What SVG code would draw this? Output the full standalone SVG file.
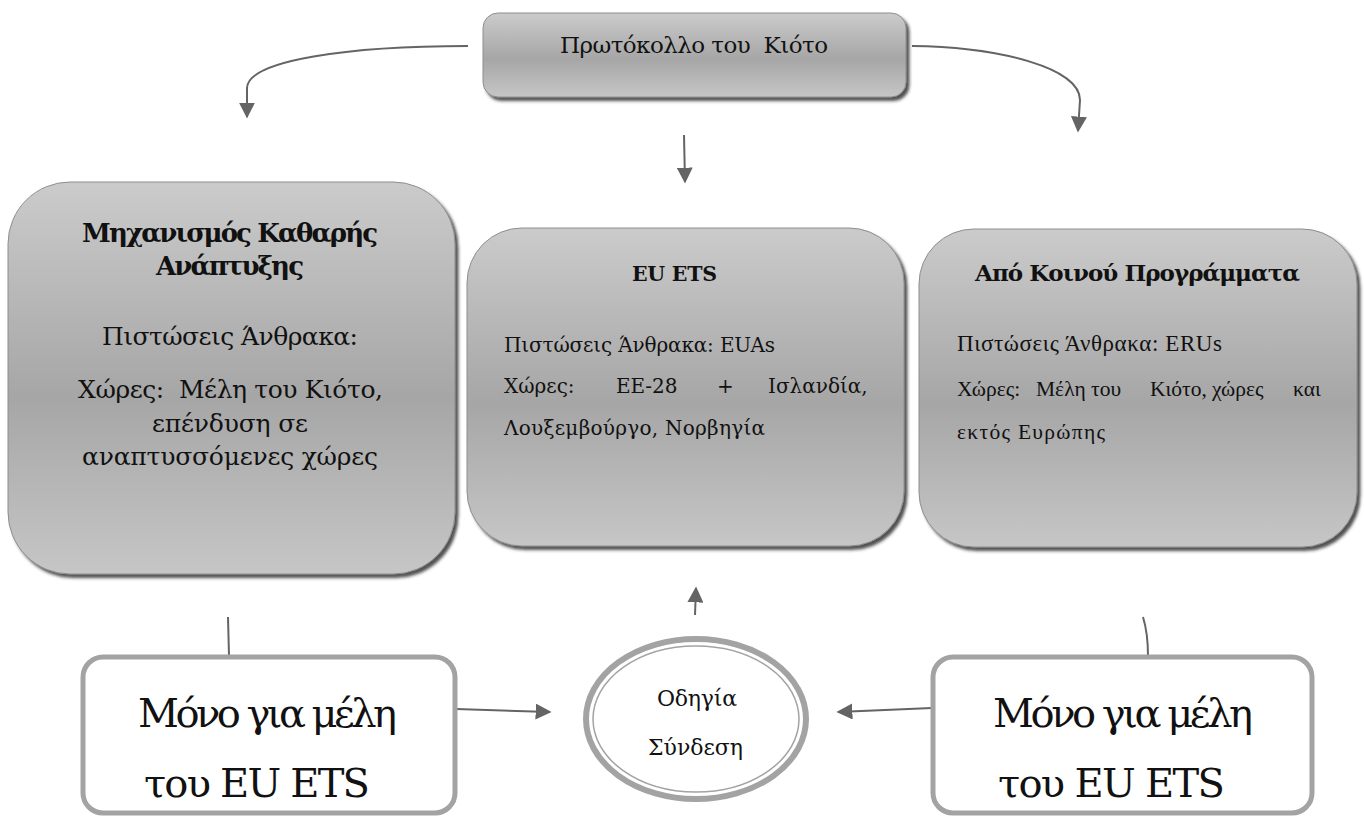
<svg xmlns="http://www.w3.org/2000/svg" width="1364" height="816" viewBox="0 0 1364 816">
  <defs>
    <linearGradient id="gfill" x1="0" y1="0" x2="0" y2="1">
      <stop offset="0" stop-color="#cbcbcb"/>
      <stop offset="0.55" stop-color="#a6a6a6"/>
      <stop offset="1" stop-color="#c6c6c6"/>
    </linearGradient>
    <filter id="shadow" x="-5%" y="-5%" width="115%" height="115%">
      <feDropShadow dx="3" dy="3.5" stdDeviation="1.5" flood-color="#262626" flood-opacity="0.8"/>
    </filter>
    <marker id="arrow" viewBox="0 0 10 10" refX="9" refY="5" markerWidth="8" markerHeight="8" markerUnits="strokeWidth" orient="auto">
      <path d="M0,0 L10,5 L0,10 z" fill="#646464"/>
    </marker>
  </defs>
  <style>
    .gbox { fill: url(#gfill); stroke: #8e8e8e; stroke-width: 1; filter: url(#shadow); }
    .wbox { fill: #ffffff; stroke: #a3a3a3; stroke-width: 5; }
    .t { fill: #111111; font-family: "DejaVu Serif", "Liberation Serif", serif; }
    .tr { fill: #111111; font-family: "Liberation Serif", "DejaVu Serif", serif; }
    .b { font-weight: bold; }
    .conn { fill: none; stroke: #646464; stroke-width: 2; }
  </style>

  <g id="connectors">
    <path class="conn" d="M468,46 C350,46 248,60 247,88 L247,117" marker-end="url(#arrow)"/>
    <path class="conn" d="M912,46 C1000,47 1080,68 1080,100 L1078,131" marker-end="url(#arrow)"/>
    <path class="conn" d="M684,135 L685,182" marker-end="url(#arrow)"/>
    <path class="conn" d="M695,615 L696,588" marker-end="url(#arrow)"/>
    <path class="conn" d="M456,709 L550,712" marker-end="url(#arrow)"/>
    <path class="conn" d="M932,708 L838,712" marker-end="url(#arrow)"/>
    <path class="conn" d="M228,617 L229,656"/>
    <path class="conn" d="M1143,617 C1147,630 1148,642 1148,656"/>
  </g>

  <g id="kyoto">
    <rect class="gbox" x="483" y="13" width="423" height="84" rx="15"/>
    <text class="t" x="560" y="53" font-size="23" textLength="268" xml:space="preserve">Πρωτόκολλο του  Κιότο</text>
  </g>

  <g id="cdm">
    <rect class="gbox" x="8" y="182" width="447" height="392" rx="62"/>
    <text class="t b" x="82" y="242" font-size="26" textLength="296">Μηχανισμός Καθαρής</text>
    <text class="t b" x="156" y="275" font-size="26" textLength="148">Ανάπτυξης</text>
    <text class="t" x="102" y="345" font-size="25" textLength="256">Πιστώσεις Άνθρακα:</text>
    <text class="t" x="78" y="398" font-size="25" textLength="305" xml:space="preserve">Χώρες:  Μέλη του Κιότο,</text>
    <text class="t" x="152" y="432" font-size="25" textLength="156">επένδυση σε</text>
    <text class="t" x="82" y="465" font-size="25" textLength="296">αναπτυσσόμενες χώρες</text>
  </g>

  <g id="euets">
    <rect class="gbox" x="467" y="228" width="437" height="318" rx="55"/>
    <text class="t b" x="632" y="281" font-size="20.5" textLength="85">EU ETS</text>
    <text class="t" x="504" y="352" font-size="20" textLength="271">Πιστώσεις Άνθρακα: EUAs</text>
    <text class="t" y="393" font-size="20"><tspan x="504">Χώρες:</tspan><tspan x="616">ΕΕ-28</tspan><tspan x="717">+</tspan><tspan x="768">Ισλανδία,</tspan></text>
    <text class="t" x="504" y="435" font-size="20" textLength="261">Λουξεμβούργο, Νορβηγία</text>
  </g>

  <g id="ji">
    <rect class="gbox" x="919" y="229" width="438" height="318" rx="55"/>
    <text class="t b" x="975" y="281" font-size="23" textLength="325">Από Κοινού Προγράμματα</text>
    <text class="tr" x="957" y="351" font-size="23" textLength="265">Πιστώσεις Άνθρακα: ERUs</text>
    <text class="tr" y="396" font-size="21.5"><tspan x="957">Χώρες:</tspan><tspan x="1036">Μέλη</tspan><tspan x="1091">του</tspan><tspan x="1150">Κιότο,</tspan><tspan x="1212">χώρες</tspan><tspan x="1293">και</tspan></text>
    <text class="tr" x="957" y="439" font-size="21.5" textLength="148">εκτός Ευρώπης</text>
  </g>

  <g id="only-left">
    <rect class="wbox" x="83" y="657" width="372" height="156" rx="20"/>
    <text class="t" x="138" y="727" font-size="40" textLength="259">Μόνο για μέλη</text>
    <text class="t" x="144" y="797" font-size="40" textLength="226">του EU ETS</text>
  </g>

  <g id="directive">
    <ellipse cx="696" cy="719" rx="110" ry="80" fill="#ffffff" stroke="#a3a3a3" stroke-width="6"/>
    <ellipse cx="696" cy="719" rx="103" ry="73" fill="none" stroke="#a3a3a3" stroke-width="1.5"/>
    <text class="t" x="657" y="706" font-size="22" textLength="80">Οδηγία</text>
    <text class="t" x="648" y="755" font-size="22" textLength="95">Σύνδεση</text>
  </g>

  <g id="only-right">
    <rect class="wbox" x="933" y="657" width="379" height="156" rx="20"/>
    <text class="t" x="993" y="727" font-size="40" textLength="260">Μόνο για μέλη</text>
    <text class="t" x="998" y="797" font-size="40" textLength="227">του EU ETS</text>
  </g>
</svg>
